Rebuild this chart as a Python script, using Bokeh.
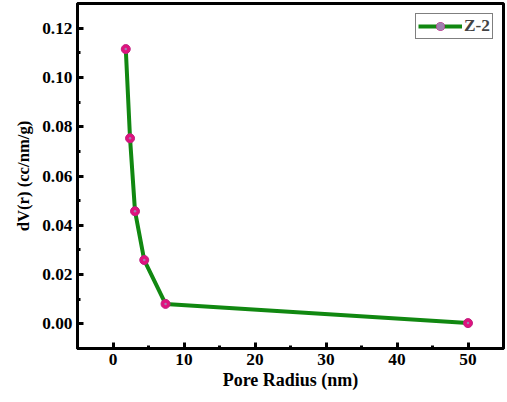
from bokeh.plotting import figure
from bokeh.models import SingleIntervalTicker, Legend, LegendItem, NumeralTickFormatter
from bokeh.embed import file_html
from bokeh.resources import INLINE

pore_radius = [1.8, 2.4, 3.1, 4.4, 7.4, 50.0]
dv = [0.1115, 0.0753, 0.0457, 0.0259, 0.0081, 0.0003]
series_name = "Z-2"

p = figure(width=507, height=402, output_backend="svg", toolbar_location=None,
           x_range=(-5, 55), y_range=(-0.01, 0.13),
           min_border_left=77, min_border_right=4, min_border_top=3, min_border_bottom=54)
p.grid.visible = False
p.outline_line_color = "black"
p.outline_line_width = 3

FONT = "Liberation Serif"
for ax in (p.xaxis[0], p.yaxis[0]):
    ax.axis_line_width = 3
    ax.major_tick_in = 6
    ax.major_tick_out = 0
    ax.minor_tick_in = 3
    ax.minor_tick_out = 0
    ax.major_tick_line_width = 3
    ax.minor_tick_line_width = 3
    ax.major_label_text_font = FONT
    ax.major_label_text_font_style = "bold"
    ax.major_label_text_font_size = "13pt"
    ax.major_label_text_color = "black"
    ax.axis_label_text_font = FONT
    ax.axis_label_text_font_style = "bold"
    ax.axis_label_text_color = "black"

p.xaxis.axis_label_text_font_size = "13.5pt"
p.yaxis.axis_label_text_font_size = "12.5pt"
p.xaxis.ticker = SingleIntervalTicker(interval=10, num_minor_ticks=2)
p.yaxis.ticker = SingleIntervalTicker(interval=0.02, num_minor_ticks=2)
p.yaxis.formatter = NumeralTickFormatter(format="0.00")
p.xaxis.axis_label = "Pore Radius (nm)"
p.yaxis.axis_label = "dV(r) (cc/nm/g)"
p.xaxis.axis_label_standoff = 2
p.yaxis.axis_label_standoff = 6

ln = p.line(pore_radius, dv, line_color="#118811", line_width=4)
mk = p.scatter(pore_radius, dv, marker="circle", size=9, fill_color="#E0127E",
               line_color="#C02080", line_width=1)
ctr = p.scatter(pore_radius, dv, marker="circle", size=2.5, fill_color="#A080B0",
                line_color=None)

legend = Legend(items=[LegendItem(label=series_name, renderers=[ln, mk, ctr])],
                location="top_right", label_text_font=FONT,
                label_text_font_style="bold", label_text_font_size="13pt",
                border_line_color="black", border_line_width=1,
                glyph_width=44, label_standoff=2, padding=2, margin=10,
                spacing=0)
p.add_layout(legend)

open("out.html", "w").write(file_html(p, INLINE))
